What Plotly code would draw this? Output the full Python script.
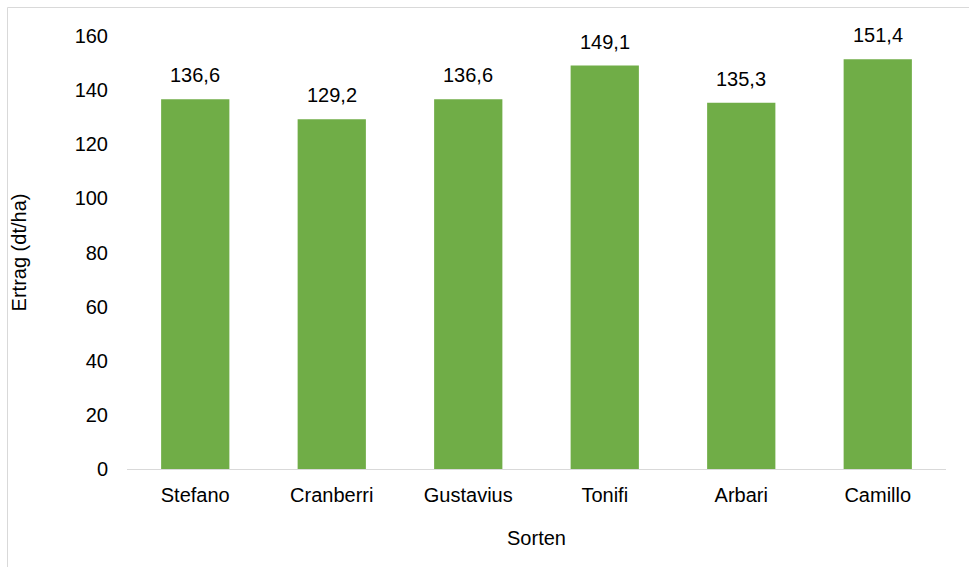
import plotly.graph_objects as go

categories = ["Stefano", "Cranberri", "Gustavius", "Tonifi", "Arbari", "Camillo"]
values = [136.6, 129.2, 136.6, 149.1, 135.3, 151.4]
y_ticks = [0, 20, 40, 60, 80, 100, 120, 140, 160]

W, H = 969, 567
L, R, T, B = 127, 23, 36, 98
pw, ph = W - L - R, H - T - B

def px_x(px):
    return (px - L) / pw

def px_y(py):
    return (H - B - py) / ph

font = dict(family="Liberation Sans, Arial, sans-serif", size=20, color="#000000")

fig = go.Figure()
fig.add_trace(go.Bar(
    x=categories, y=values,
    marker=dict(color="#70AD47", line=dict(width=0)),
    width=0.5,
))

for c, v in zip(categories, values):
    fig.add_annotation(
        x=c, y=v, text=f"{v:.1f}".replace(".", ","),
        showarrow=False, yanchor="middle", yshift=24, font=font,
    )

fig.update_layout(
    width=W, height=H,
    margin=dict(l=L, r=R, t=T, b=B),
    paper_bgcolor="white", plot_bgcolor="white",
    separators=",.",
    font=font,
    showlegend=False,
    xaxis=dict(
        showgrid=False, showline=True, linecolor="#d9d9d9", linewidth=1,
        ticks="", tickfont=font, ticklabelstandoff=8,
        title=dict(text="Sorten", font=font, standoff=25),
    ),
    yaxis=dict(
        range=[0, 160], tickvals=y_ticks, showgrid=False, zeroline=False,
        showline=False, ticks="", tickfont=font, ticklabelstandoff=18,
        title=dict(text="Ertrag (dt/ha)", font=font, standoff=42),
    ),
    shapes=[dict(
        type="rect", xref="paper", yref="paper",
        x0=px_x(7.5), x1=px_x(990), y0=px_y(7.5), y1=px_y(590),
        line=dict(color="#d9d9d9", width=1), layer="below",
    )],
)

fig.write_html("out.html")
